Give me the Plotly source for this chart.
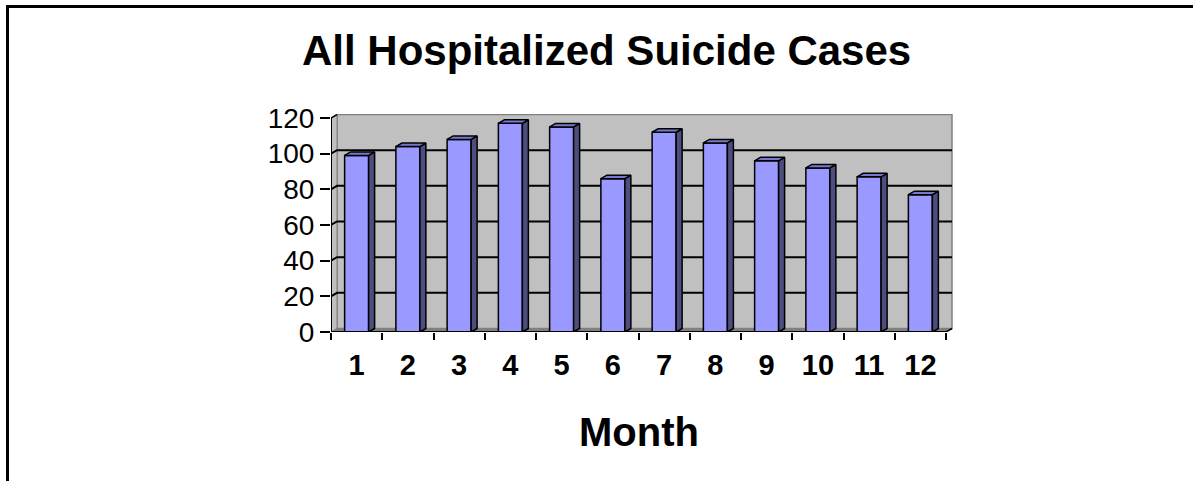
import plotly.graph_objects as go

# ---- data ----
months = [1, 2, 3, 4, 5, 6, 7, 8, 9, 10, 11, 12]
month_labels = ["1", "2", "3", "4", "5", "6", "7", "8", "9", "10", "11", "12"]
cases = [99, 104, 108, 117, 115, 86, 112, 106, 96, 92, 87, 77]
y_ticks = [0, 20, 40, 60, 80, 100, 120]
title_text = "All Hospitalized Suicide Cases"
x_title = "Month"

# ---- geometry (axis units) ----
W, H = 1193, 481
ML, MR, MT, MB = 331, 240, 114, 149
plot_w = W - ML - MR
plot_h = H - MT - MB
px_per_cat = 51.25
x_min = 0.5
x_max = x_min + plot_w / px_per_cat
y_max_val = 120
px_per_unit = 214 / 120.0
y_top = plot_h / px_per_unit
dxu = 6 / px_per_cat          # depth offset (x) in category units
dyu = 3.5 / px_per_unit       # depth offset (y) in value units
bw = 0.468                    # bar front width
n = len(months)
x_lo, x_hi = 0.5, n + 0.5

FRONT = "#9999FF"
SIDE = "#4D4D80"
TOP = "#7878CC"
WALL = "#C0C0C0"
FLOOR = "#808080"
FONT = "Liberation Sans, Arial, sans-serif"

fig = go.Figure()

# front faces
fig.add_trace(go.Bar(
    x=months, y=cases, width=bw,
    marker=dict(color=FRONT, line=dict(color="black", width=1.5)),
    hoverinfo="skip", showlegend=False, xaxis="x", yaxis="y",
))

# side and top faces built from the data
sx, sy, tx, ty = [], [], [], []
for m, v in zip(months, cases):
    r = m + bw / 2
    l = m - bw / 2
    sx += [r, r + dxu, r + dxu, r, r, None]
    sy += [0, dyu, v + dyu, v, 0, None]
    tx += [l, l + dxu, r + dxu, r, l, None]
    ty += [v, v + dyu, v + dyu, v, v, None]

fig.add_trace(go.Scatter(x=sx, y=sy, mode="lines", fill="toself", fillcolor=SIDE,
                         line=dict(color="black", width=1.5), hoverinfo="skip",
                         showlegend=False, cliponaxis=False))
fig.add_trace(go.Scatter(x=tx, y=ty, mode="lines", fill="toself", fillcolor=TOP,
                         line=dict(color="black", width=1.5), hoverinfo="skip",
                         showlegend=False, cliponaxis=False))
# invisible trace for tick-mark axis
fig.add_trace(go.Scatter(x=[x_lo, x_hi], y=[0, 0], mode="markers", marker=dict(opacity=0),
                         xaxis="x2", yaxis="y", hoverinfo="skip", showlegend=False))

shapes = []
# back wall
shapes.append(dict(type="rect", xref="x", yref="y", x0=x_lo + dxu, x1=x_hi + dxu,
                   y0=dyu, y1=y_max_val + dyu, fillcolor=WALL,
                   line=dict(color="#808080", width=1.5), layer="below"))
# left side wall
shapes.append(dict(type="path", xref="x", yref="y",
                   path=f"M {x_lo},0 L {x_lo + dxu},{dyu} L {x_lo + dxu},{y_max_val + dyu} L {x_lo},{y_max_val} Z",
                   fillcolor=WALL, line=dict(color="#808080", width=1), layer="below"))
# floor
shapes.append(dict(type="path", xref="x", yref="y",
                   path=f"M {x_lo},0 L {x_hi},0 L {x_hi + dxu},{dyu} L {x_lo + dxu},{dyu} Z",
                   fillcolor=FLOOR, line=dict(color="#808080", width=1), layer="below"))
# gridlines on back wall + left wall diagonals
for t in y_ticks:
    if 0 < t < y_max_val:
        shapes.append(dict(type="path", xref="x", yref="y",
                           path=f"M {x_lo},{t} L {x_lo + dxu},{t + dyu} L {x_hi + dxu},{t + dyu}",
                           line=dict(color="black", width=2), layer="below"))
shapes.append(dict(type="line", xref="x", yref="y", x0=x_lo, y0=y_max_val,
                   x1=x_lo + dxu, y1=y_max_val + dyu, line=dict(color="black", width=1.5)))
# axis lines
shapes.append(dict(type="line", xref="x", yref="y", x0=x_lo, x1=x_hi, y0=0, y1=0,
                   line=dict(color="black", width=2)))
shapes.append(dict(type="line", xref="x", yref="y", x0=x_lo, x1=x_lo, y0=0, y1=y_max_val,
                   line=dict(color="black", width=2)))
# floor right edge
shapes.append(dict(type="line", xref="x", yref="y", x0=x_hi, x1=x_hi + dxu, y0=0, y1=dyu,
                   line=dict(color="black", width=1.5)))

# outer frame (top and left)
def px_to_paper_x(p):
    return (p - ML) / plot_w

def px_to_paper_y(p):
    return (H - MB - p) / plot_h

shapes.append(dict(type="line", xref="paper", yref="paper",
                   x0=px_to_paper_x(7.5), x1=px_to_paper_x(1200),
                   y0=px_to_paper_y(6.5), y1=px_to_paper_y(6.5),
                   line=dict(color="black", width=3)))
shapes.append(dict(type="line", xref="paper", yref="paper",
                   x0=px_to_paper_x(7.5), x1=px_to_paper_x(7.5),
                   y0=px_to_paper_y(5), y1=px_to_paper_y(490),
                   line=dict(color="black", width=3)))

annotations = [
    dict(text=f"<b>{title_text}</b>", xref="paper", yref="paper",
         x=px_to_paper_x(606), y=px_to_paper_y(50), xanchor="center", yanchor="middle",
         showarrow=False, font=dict(family=FONT, size=42, color="black")),
    dict(text=f"<b>{x_title}</b>", xref="x", yref="paper",
         x=(x_lo + x_hi) / 2, y=px_to_paper_y(432), xanchor="center", yanchor="middle",
         showarrow=False, font=dict(family=FONT, size=40, color="black")),
]

fig.update_layout(
    width=W, height=H,
    margin=dict(l=ML, r=MR, t=MT, b=MB, pad=0),
    paper_bgcolor="white", plot_bgcolor="white",
    bargap=0.5,
    shapes=shapes, annotations=annotations,
    xaxis=dict(range=[x_min, x_max], tickvals=months, ticktext=[f"<b>{s}</b>" for s in month_labels],
               ticks="", showgrid=False, zeroline=False, showline=False,
               tickfont=dict(family=FONT, size=29, color="black"),
               ticklabelstandoff=13),
    xaxis2=dict(range=[x_min, x_max], overlaying="x", side="bottom", anchor="y",
                tickvals=[m - 0.5 for m in months] + [months[-1] + 0.5],
                ticks="outside", ticklen=7, tickwidth=2, tickcolor="black",
                showticklabels=False, showgrid=False, zeroline=False, showline=False),
    yaxis=dict(range=[0, y_top], tickvals=y_ticks, ticks="outside", ticklen=10, tickwidth=2,
               tickcolor="black", showgrid=False, zeroline=False, showline=False,
               tickfont=dict(family=FONT, size=28, color="black")),
    font=dict(family=FONT, color="black"),
)

fig.write_html("out.html", config={"displayModeBar": False},
               post_script="document.body.style.margin='0';document.body.style.overflow='hidden';")
